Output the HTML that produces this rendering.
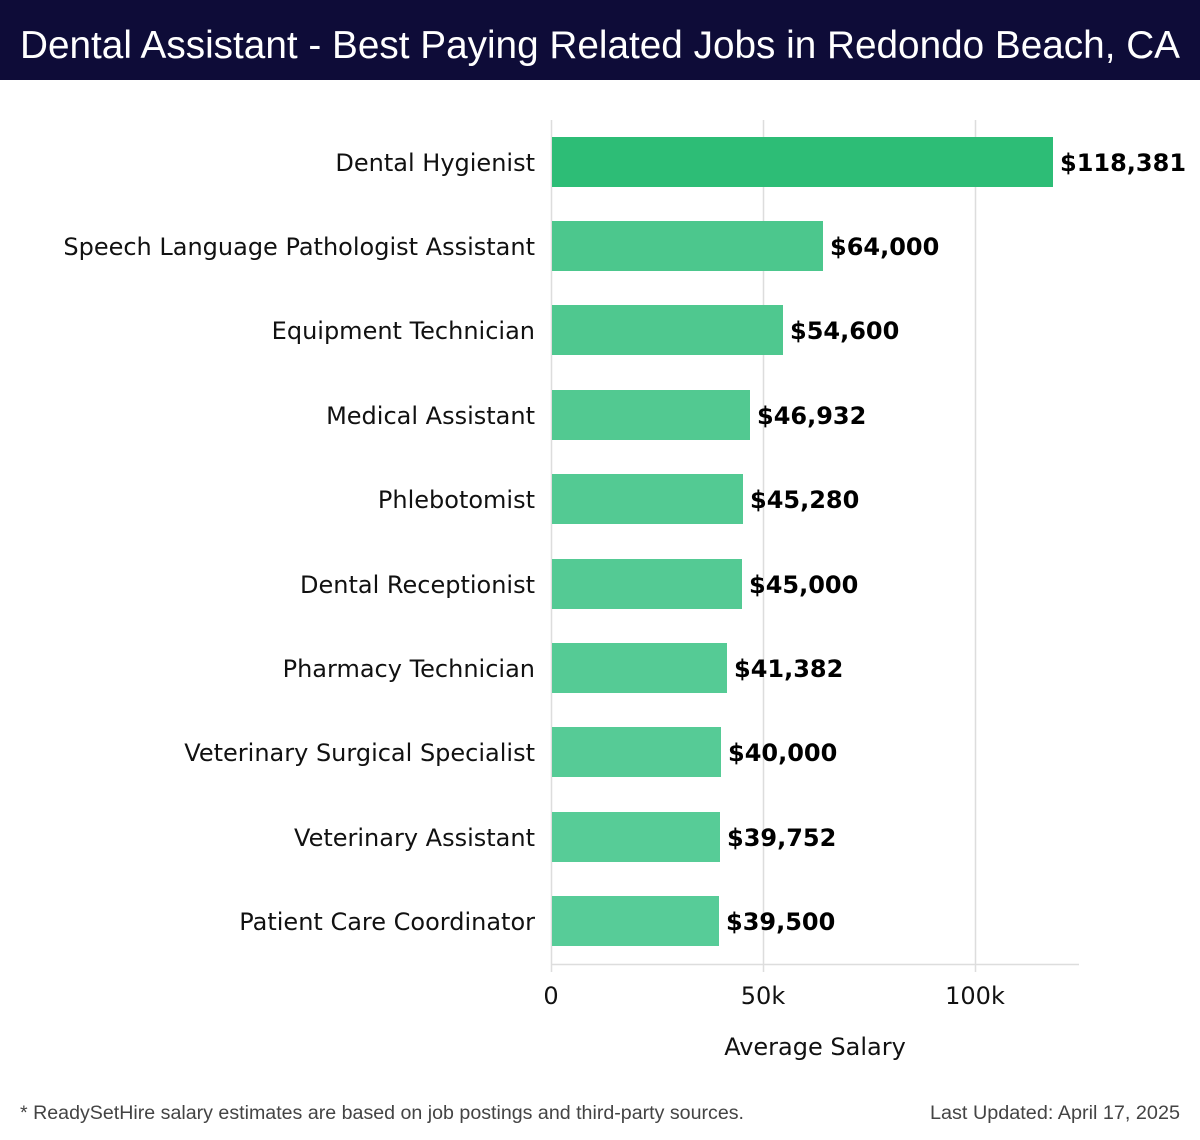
<!DOCTYPE html>
<html><head><meta charset="utf-8"><style>
html,body{margin:0;padding:0;background:#fff;}
svg{display:block;}
</style></head><body>
<svg width="1200" height="1140" viewBox="0 0 1200 1140" xmlns="http://www.w3.org/2000/svg">
<rect x="0" y="0" width="1200" height="80" fill="#0e0c38"/>
<text x="20" y="58" font-family="Liberation Sans, sans-serif" font-size="39" fill="#fff" textLength="1160" lengthAdjust="spacingAndGlyphs">Dental Assistant - Best Paying Related Jobs in Redondo Beach, CA</text>
<g stroke="#dddddd" stroke-width="1.5">
<line x1="763.5" y1="120" x2="763.5" y2="972"/>
<line x1="975.5" y1="120" x2="975.5" y2="972"/>
<line x1="551.5" y1="120" x2="551.5" y2="972"/>
<line x1="551" y1="964.5" x2="1079" y2="964.5"/>
</g>
<g font-family="DejaVu Sans, sans-serif" font-size="24" fill="#111">
<rect x="552" y="137" width="501" height="50" fill="#2dbd76"/>
<rect x="552" y="221" width="271" height="50" fill="#4cc78d"/>
<rect x="552" y="305" width="231" height="50" fill="#4fc88f"/>
<rect x="552" y="390" width="198" height="50" fill="#52c991"/>
<rect x="552" y="474" width="191" height="50" fill="#53ca93"/>
<rect x="552" y="559" width="190" height="50" fill="#54ca94"/>
<rect x="552" y="643" width="175" height="50" fill="#55cb95"/>
<rect x="552" y="727" width="169" height="50" fill="#56cb96"/>
<rect x="552" y="812" width="168" height="50" fill="#57cc97"/>
<rect x="552" y="896" width="167" height="50" fill="#57cc98"/>
<g text-anchor="end">
<text x="535" y="171">Dental Hygienist</text>
<text x="535" y="255">Speech Language Pathologist Assistant</text>
<text x="535" y="339">Equipment Technician</text>
<text x="535" y="424">Medical Assistant</text>
<text x="535" y="508">Phlebotomist</text>
<text x="535" y="593">Dental Receptionist</text>
<text x="535" y="677">Pharmacy Technician</text>
<text x="535" y="761">Veterinary Surgical Specialist</text>
<text x="535" y="846">Veterinary Assistant</text>
<text x="535" y="930">Patient Care Coordinator</text>
</g>
<g font-weight="bold" fill="#000">
<text x="1060" y="171">$118,381</text>
<text x="830" y="255">$64,000</text>
<text x="790" y="339">$54,600</text>
<text x="757" y="424">$46,932</text>
<text x="750" y="508">$45,280</text>
<text x="749" y="593">$45,000</text>
<text x="734" y="677">$41,382</text>
<text x="728" y="761">$40,000</text>
<text x="727" y="846">$39,752</text>
<text x="726" y="930">$39,500</text>
</g>
<g text-anchor="middle">
<text x="551" y="1004">0</text>
<text x="763" y="1004">50k</text>
<text x="975" y="1004">100k</text>
<text x="815" y="1055">Average Salary</text>
</g>
</g>
<text x="20" y="1119" font-family="Liberation Sans, sans-serif" font-size="19" fill="#444" textLength="724" lengthAdjust="spacingAndGlyphs">* ReadySetHire salary estimates are based on job postings and third-party sources.</text>
<text x="1180" y="1119" text-anchor="end" font-family="Liberation Sans, sans-serif" font-size="19" fill="#444" textLength="250" lengthAdjust="spacingAndGlyphs">Last Updated: April 17, 2025</text>
</svg>
</body></html>
